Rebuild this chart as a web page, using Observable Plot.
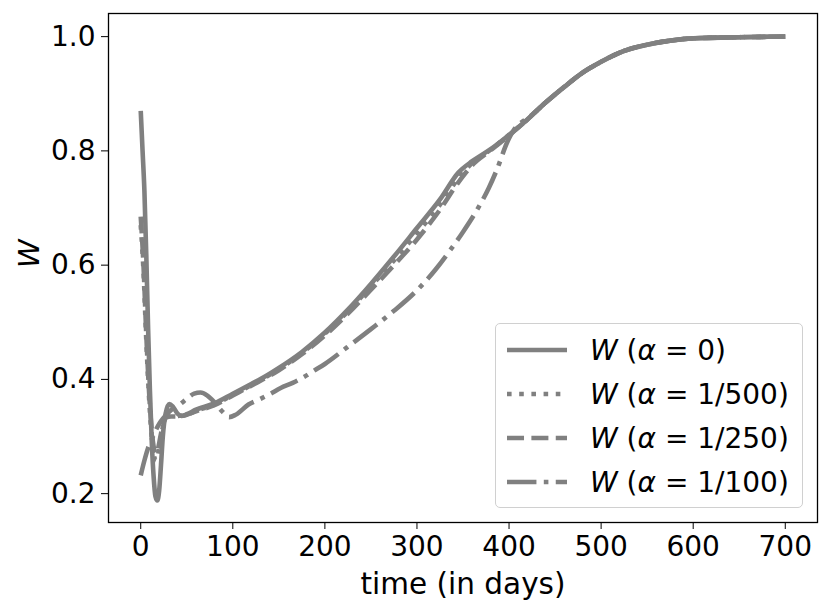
<!DOCTYPE html>
<html>
<head>
<meta charset="utf-8">
<script src="https://cdn.jsdelivr.net/npm/d3@7"></script>
<script src="https://cdn.jsdelivr.net/npm/@observablehq/plot@0.6"></script>
<style>
  html, body { margin: 0; padding: 0; background: #fff; }
  #wrap { position: relative; width: 831px; height: 614px; font-family: "DejaVu Sans", sans-serif; }
  #legend { position: absolute; left: 495px; top: 323px; width: 308px; height: 185px;
    box-sizing: border-box; border: 1.3px solid #d0d0d0; border-radius: 5px; background: rgba(255,255,255,0.8); }
</style>
</head>
<body>
<div id="wrap"></div>
<script>
// ---- data ----
const seriesNames = ["W (α = 0)", "W (α = 1/500)", "W (α = 1/250)", "W (α = 1/100)"];
const alphaLabels = ["0", "1/500", "1/250", "1/100"];

const tSolid = [0,2,4,6,8,10,12,14,16,18,20,22,24,27,31,35,40,44,50,60,80,100,120,135,150,175,200,225,250,275,300,325,345,360,380,400,420,440,460,480,500,525,550,575,600,650,700];
const wSolid = [0.87,0.80,0.73,0.62,0.49,0.38,0.29,0.23,0.195,0.188,0.205,0.25,0.30,0.34,0.357,0.352,0.340,0.336,0.339,0.347,0.358,0.375,0.392,0.405,0.420,0.448,0.482,0.522,0.567,0.615,0.665,0.715,0.762,0.782,0.803,0.828,0.855,0.885,0.912,0.937,0.956,0.975,0.986,0.993,0.997,0.999,1.0];

const tDotted = [0,3,6,9,12,15,17,19,22,25,30,40,50,60,80,100,120,150,175,200,225,250,275,300,325,345,360,380,400,420,440,460,480,500,525,550,575,600,650,700];
const wDotted = [0.67,0.59,0.47,0.37,0.30,0.262,0.258,0.27,0.30,0.322,0.335,0.336,0.338,0.345,0.356,0.373,0.390,0.418,0.446,0.480,0.519,0.563,0.608,0.656,0.706,0.752,0.779,0.802,0.828,0.855,0.885,0.912,0.937,0.956,0.975,0.986,0.993,0.997,0.999,1.0];

const tDashed = [0,3,6,9,12,15,17,19,22,25,30,40,50,60,80,100,120,150,175,200,225,250,275,300,325,345,360,380,400,420,440,460,480,500,525,550,575,600,650,700];
const wDashed = [0.685,0.60,0.48,0.38,0.31,0.275,0.27,0.28,0.305,0.325,0.335,0.335,0.338,0.344,0.355,0.372,0.389,0.416,0.444,0.477,0.515,0.557,0.600,0.645,0.697,0.745,0.775,0.801,0.827,0.855,0.885,0.912,0.937,0.956,0.975,0.986,0.993,0.997,0.999,1.0];

const tDashDot = [0,4,8,12,16,20,25,30,36,43,50,58,65,72,80,89,96,103,117,130,141,152,165,177,188,200,224,250,275,300,320,336,350,365,378,387,398,405,412,420,440,460,480,500,525,550,575,600,650,700];
const wDashDot = [0.232,0.258,0.28,0.295,0.31,0.322,0.333,0.342,0.35,0.357,0.366,0.375,0.377,0.372,0.36,0.343,0.334,0.338,0.356,0.366,0.375,0.385,0.394,0.404,0.415,0.427,0.456,0.488,0.52,0.556,0.592,0.626,0.658,0.696,0.735,0.768,0.815,0.836,0.848,0.857,0.885,0.912,0.937,0.956,0.975,0.986,0.993,0.997,0.999,1.0];

const xTicks = [0,100,200,300,400,500,600,700];
const yTicks = [0.2,0.4,0.6,0.8,1.0];

// ---- build ----
const lw = 4.6;
const dashes = [null, `${lw},${1.65*lw}`, `${3.7*lw},${1.6*lw}`, `${6.4*lw},${1.6*lw},${lw},${1.6*lw}`];
const tArrays = [tSolid, tDotted, tDashed, tDashDot];
const wArrays = [wSolid, wDotted, wDashed, wDashDot];
const series = tArrays.map((ts, i) => ts.map((t, j) => ({t, w: wArrays[i][j], s: seriesNames[i]})));

const color = "#808080";
const font = "DejaVu Sans, sans-serif";
const fs = 28;

const lineMarks = series.map((d, i) => Plot.line(d, {
  x: "t", y: "w", stroke: color, strokeWidth: lw, curve: "monotone-x",
  strokeDasharray: dashes[i] ?? undefined, strokeLinecap: "butt", strokeLinejoin: "round"
}));

const chart = Plot.plot({
  width: 831, height: 614,
  marginLeft: 108, marginRight: 14, marginTop: 13, marginBottom: 92,
  style: {fontFamily: font, background: "#fff", overflow: "visible"},
  x: {domain: [-35, 735]},
  y: {domain: [0.1495, 1.0405]},
  marks: [
    ...lineMarks,
    Plot.frame({stroke: "#000", strokeWidth: 1.3}),
    Plot.axisX({ticks: xTicks, tickSize: 7, tickPadding: 7, fontSize: fs, label: null, stroke: "#000", fill: "#000", tickFormat: d => String(d)}),
    Plot.axisY({ticks: yTicks, tickSize: 7, tickPadding: 6, fontSize: fs, label: null, stroke: "#000", fill: "#000", tickFormat: d => d.toFixed(1)}),
    Plot.text(["time (in days)"], {frameAnchor: "bottom", lineAnchor: "middle", dy: 62, fontSize: 29.5, fill: "#000"}),
    Plot.text(["W"], {frameAnchor: "left", dx: -79, rotate: -90, fontSize: 29, fontStyle: "italic", fill: "#000"})
  ]
});

const wrap = document.getElementById("wrap");
wrap.appendChild(chart);

// legend overlay
const legend = document.createElement("div");
legend.id = "legend";
wrap.appendChild(legend);
const lsvg = d3.select(legend).append("svg").attr("width", 306).attr("height", 183)
  .style("position", "absolute").style("left", "0").style("top", "0");
seriesNames.forEach((name, i) => {
  const cy = 26 + i * 44;
  lsvg.append("line").attr("x1", 11).attr("x2", 71).attr("y1", cy).attr("y2", cy)
    .attr("stroke", color).attr("stroke-width", lw)
    .attr("stroke-dasharray", dashes[i]).attr("stroke-linecap", "butt");
  const txt = lsvg.append("text").attr("x", 94).attr("y", cy).attr("dy", "0.36em")
    .attr("font-family", font).attr("font-size", fs).attr("fill", "#000");
  txt.append("tspan").attr("font-style", "italic").text("W");
  txt.append("tspan").text(" (");
  txt.append("tspan").attr("font-style", "italic").text("α");
  txt.append("tspan").text(" = " + alphaLabels[i] + ")");
});
</script>
</body>
</html>
